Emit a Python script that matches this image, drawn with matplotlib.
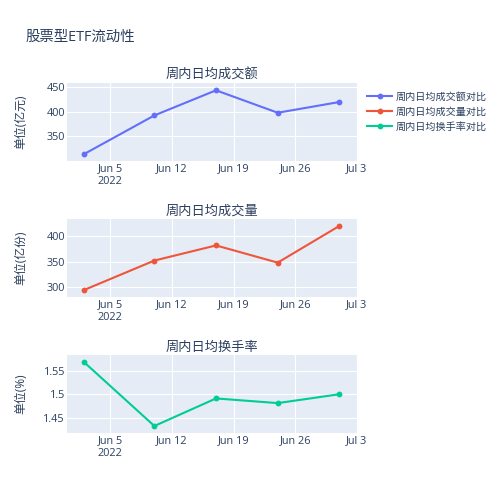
import numpy as np
import matplotlib
matplotlib.use("Agg")
import matplotlib.pyplot as plt

plt.rcParams['font.family'] = ['Open Sans', 'Noto Sans CJK SC', 'DejaVu Sans']

# weekly data (last trading day of each week)
dates = np.array(['2022-06-02', '2022-06-10', '2022-06-17', '2022-06-24', '2022-07-01'], dtype='datetime64[D]')
amount = [313, 392.5, 444, 398, 420]        # 亿元
volume = [294.5, 352, 381.5, 348, 419.5]    # 亿份
turnover = [1.569, 1.432, 1.491, 1.481, 1.50]  # %

xticks = np.array(['2022-06-05', '2022-06-12', '2022-06-19', '2022-06-26', '2022-07-03'], dtype='datetime64[D]')
xticklabels = ['Jun 5\n2022', 'Jun 12', 'Jun 19', 'Jun 26', 'Jul 3']

titles = ['周内日均成交额', '周内日均成交量', '周内日均换手率']
ylabels = ['单位(亿元)', '单位(亿份)', '单位(%)']
names = ['周内日均成交额对比', '周内日均成交量对比', '周内日均换手率对比']
colors = ['#636EFA', '#EF553B', '#00CC96']
yticks = [[350, 400, 450], [300, 350, 400], [1.45, 1.5, 1.55]]
yticklabels = [['350', '400', '450'], ['300', '350', '400'], ['1.45', '1.5', '1.55']]
ylims = [(299, 459), (281, 433), (1.417, 1.584)]

txt = '#2a3f5f'
fig = plt.figure(figsize=(5, 5), dpi=100)
fig.patch.set_facecolor('white')

bottoms = [0.678, 0.406, 0.134]
series = [amount, volume, turnover]
x0 = dates[0] - np.timedelta64(46, 'h')
x1 = xticks[-1]

for i in range(3):
    ax = fig.add_axes([0.134, bottoms[i], 0.58, 0.156])
    ax.set_facecolor('#E5ECF6')
    ax.plot(dates, series[i], color=colors[i], lw=1.5, marker='o', ms=4.2, mew=0,
            label=names[i], zorder=3)
    ax.set_xlim(x0, x1)
    ax.set_ylim(*ylims[i])
    ax.set_xticks(xticks)
    ax.set_xticklabels(xticklabels)
    ax.set_yticks(yticks[i])
    ax.set_yticklabels(yticklabels[i])
    ax.grid(True, color='white', lw=0.8)
    ax.set_axisbelow(True)
    for s in ax.spines.values():
        s.set_visible(False)
    ax.tick_params(length=0, labelsize=7.8, labelcolor=txt, pad=1.5)
    ax.set_title(titles[i], fontsize=9.5, color=txt, pad=3)
    ax.set_ylabel(ylabels[i], fontsize=8.6, color=txt, va='center', ha='center')
    ax.yaxis.set_label_coords(-0.159, 0.5)

fig.text(0.05, 1 - 37 / 500, '股票型ETF流动性', fontsize=10.4, color=txt, va='center', ha='left')

handles = [fig.axes[k].get_lines()[0] for k in range(3)]
fig.legend(handles, names, loc='upper left', bbox_to_anchor=(0.734, 0.817), frameon=False,
           fontsize=7.25, labelcolor=txt, handlelength=2.5, handletextpad=0.4,
           labelspacing=0.4, borderaxespad=0, borderpad=0)

fig.savefig('out.png', dpi=100)
